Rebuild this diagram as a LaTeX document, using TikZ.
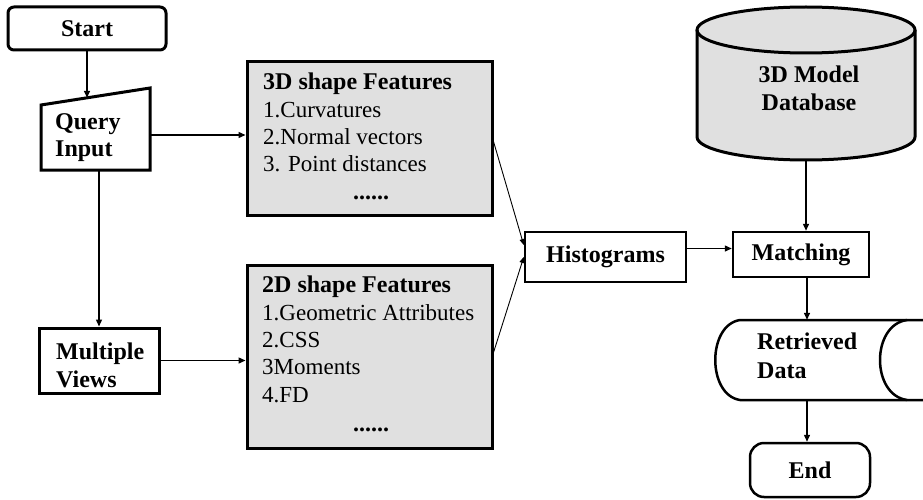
\documentclass[tikz,border=0pt]{standalone}
\usepackage{fontspec}
\setmainfont{Liberation Serif}
\usetikzlibrary{arrows.meta,calc}
\definecolor{gray1}{RGB}{224,224,224}
\begin{document}
\begin{tikzpicture}[x=1pt,y=-1pt,
  box/.style={draw, line width=3pt, inner sep=0pt},
  conn/.style={line width=1.4pt, -{Triangle[length=7pt,width=6pt]}},
  thinconn/.style={line width=0.9pt, -{Triangle[length=6pt,width=5pt]}},
  bt/.style={font=\fontsize{24}{28}\selectfont\bfseries, inner sep=0pt, align=left},
  rt/.style={font=\fontsize{23}{27.3}\selectfont, inner sep=0pt, align=left},
  ]
\useasboundingbox (0,0) rectangle (923,500);

% Start
\node[box, rounded corners=6pt, minimum width=158pt, minimum height=43pt, bt] (start) at (87,28.5) {Start};

% Query Input (manual input shape)
\node[inner sep=0pt, minimum width=109pt, minimum height=82pt] (q) at (95.5,129) {};
\draw[line width=3pt, line join=miter] (41,105) -- (150,88) -- (150,170) -- (41,170) -- cycle;
\node[bt, anchor=north west, font=\fontsize{24}{27}\selectfont\bfseries] (qt) at (55,113) {Query\\Input};
\coordinate (qin) at (87,97.8);
\coordinate (qout) at (150,135);
\coordinate (qbot) at (99,170);

% Multiple Views
\node[box, minimum width=120pt, minimum height=65pt] (mv) at (99,360.5) {};
\node[bt, anchor=north west, font=\fontsize{24}{28}\selectfont\bfseries] (mvt) at (56,343) {Multiple\\Views};

% 3D shape features
\node[box, fill=gray1, minimum width=245pt, minimum height=153pt] (f3) at (369.5,138.5) {};
\node[rt, anchor=north west] (f3t) at (263,73) {\bfseries\fontsize{24}{27.3}\selectfont 3D shape Features\\1.Curvatures\\2.Normal vectors\\3. Point distances};
\node[bt] (f3d) at (371,198) {......};

% 2D shape features
\node[box, fill=gray1, minimum width=245pt, minimum height=183pt] (f2) at (369.5,356.5) {};
\node[rt, anchor=north west] (f2t) at (262,276) {\bfseries\fontsize{24}{27}\selectfont 2D shape Features\\1.Geometric Attributes\\2.CSS\\3Moments\\4.FD};
\node[bt] (f2d) at (371,430) {......};

% Histograms
\node[box, line width=2.5pt, minimum width=161pt, minimum height=50pt, bt] (hist) at (605.5,257) {Histograms};

% Matching
\node[box, line width=2.5pt, minimum width=136pt, minimum height=45pt, bt] (match) at (801,254.5) {Matching};

% Database cylinder
\fill[gray1] (697,30) -- (697,137) arc[start angle=180,end angle=0,x radius=109,y radius=23]
  -- (915,30) arc[start angle=360,end angle=180,x radius=109,y radius=23] -- cycle;
\draw[line width=3pt] (806,30) ellipse[x radius=109,y radius=23];
\draw[line width=3pt] (697,30) -- (697,137) arc[start angle=180,end angle=0,x radius=109,y radius=23] -- (915,30);
\node[inner sep=0pt, minimum width=218pt, minimum height=153pt] (db) at (806,83.5) {};
\node[bt, align=center, font=\fontsize{24}{28}\selectfont\bfseries] (dbt) at (809,88) {3D Model\\Database};

% Retrieved data (stored data shape)
\draw[line width=2.5pt] (930,320) -- (740,320) .. controls (707,325) and (707,395) .. (740,400) -- (930,400);
\draw[line width=2.5pt] (907,320) .. controls (871,325) and (871,395) .. (907,400);
\node[inner sep=0pt, minimum width=185pt, minimum height=80pt] (ret) at (807,360) {};
\node[bt, anchor=north west, font=\fontsize{24}{29}\selectfont\bfseries] (rett) at (757,333) {Retrieved\\Data};

% End
\node[box, line width=2.5pt, rounded corners=14pt, minimum width=120pt, minimum height=54pt, bt] (end) at (810,470) {End};

% Connectors
\draw[conn] (start.south) -- (qin);
\draw[conn] (qout) -- (qout -| f3.west);
\draw[conn] (qbot) -- (mv.north);
\draw[conn] (mv.east) -- (mv.east -| f2.west);
\draw[thinconn] ($(f3.east)+(0,3)$) -- ($(hist.west)+(0,-12)$);
\draw[thinconn] ($(f2.east)+(0,-4)$) -- (hist.west);
\draw[conn] ($(match.west -| hist.east)+(0,-6)$) -- ($(match.west)+(0,-6)$);
\draw[conn] (db.south) -- (db.south |- match.north);
\draw[conn] (match.south -| ret.north) -- (ret.north);
\draw[conn] (ret.south) -- (ret.south |- end.north);
\end{tikzpicture}
\end{document}
